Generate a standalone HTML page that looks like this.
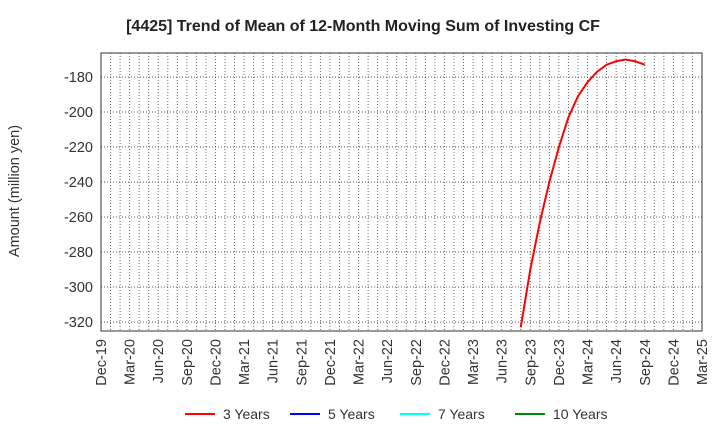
<!DOCTYPE html>
<html><head><meta charset="utf-8"><style>
body{margin:0;background:#fff;font-family:"Liberation Sans",sans-serif}
</style></head><body>
<svg width="720" height="440">
<text x="363" y="31" text-anchor="middle" font-size="16" font-weight="bold" fill="#222">[4425]  Trend of Mean of 12-Month Moving Sum of Investing CF</text>
<text transform="translate(19,191) rotate(-90)" text-anchor="middle" font-size="14.5" fill="#333">Amount (million yen)</text>
<g id="grid"></g><g id="axes"></g><g id="series"></g>
<g id="legend"></g>
</svg>
<script>
const months=["Aug-23","Sep-23","Oct-23","Nov-23","Dec-23","Jan-24","Feb-24","Mar-24","Apr-24","May-24","Jun-24","Jul-24","Aug-24","Sep-24"];
const startIndex=44; // months after Dec-19
const values3=[-323,-290,-263,-240,-220,-203,-191,-183,-177,-173,-171,-170,-171,-173];
const yTicks=[-320,-300,-280,-260,-240,-220,-200,-180];
const xLabels=["Dec-19","Mar-20","Jun-20","Sep-20","Dec-20","Mar-21","Jun-21","Sep-21","Dec-21","Mar-22","Jun-22","Sep-22","Dec-22","Mar-23","Jun-23","Sep-23","Dec-23","Mar-24","Jun-24","Sep-24","Dec-24","Mar-25"];
const L=101,R=702,T=53,B=331,yMin=-325.1,yMax=-166.3,nMonths=63;
const NS="http://www.w3.org/2000/svg";
const xs=m=>L+(R-L)*m/nMonths, ys=v=>B-(v-yMin)/(yMax-yMin)*(B-T);
function mk(p,t,a){const e=document.createElementNS(NS,t);for(const k in a)e.setAttribute(k,a[k]);document.getElementById(p).appendChild(e);return e;}
for(let m=1;m<nMonths;m++){const x=xs(m);
const g=mk("grid","line",{x1:x,x2:x,y1:T,y2:B,stroke:"#666","stroke-dasharray":"1,2","stroke-width":1});

}
yTicks.forEach(v=>{const y=ys(v);
const g=mk("grid","line",{x1:L,x2:R,y1:y,y2:y,stroke:"#555","stroke-dasharray":"1,2"});


const t=mk("axes","text",{x:L-8,y:y+5,"text-anchor":"end","font-size":14.5,fill:"#333"});t.textContent=v;

});
xLabels.forEach((s,i)=>{const x=xs(i*3);
const t=mk("axes","text",{transform:`translate(${x+5},${B+8}) rotate(-90)`,"text-anchor":"end","font-size":14.5,fill:"#333"});t.textContent=s;

});
const f=mk("axes","rect",{x:L,y:T,width:R-L,height:B-T,fill:"none",stroke:"#333","stroke-width":1});


const pts=values3.map((v,i)=>xs(startIndex+i)+","+ys(v)).join(" ");
const pl=mk("series","polyline",{points:pts,fill:"none",stroke:"#f00","stroke-width":2});


const legendNames=["3 Years","5 Years","7 Years","10 Years"],legendColors=["#f00","#00f","#0ff","#080"],legendX=[185,290,400,515];
legendNames.forEach((n,i)=>{
const l=mk("legend","line",{x1:legendX[i],x2:legendX[i]+30,y1:414,y2:414,stroke:legendColors[i],"stroke-width":2});


const t=mk("legend","text",{x:legendX[i]+38,y:419,"font-size":14,fill:"#333"});t.textContent=n;

});
</script>
</body></html>
